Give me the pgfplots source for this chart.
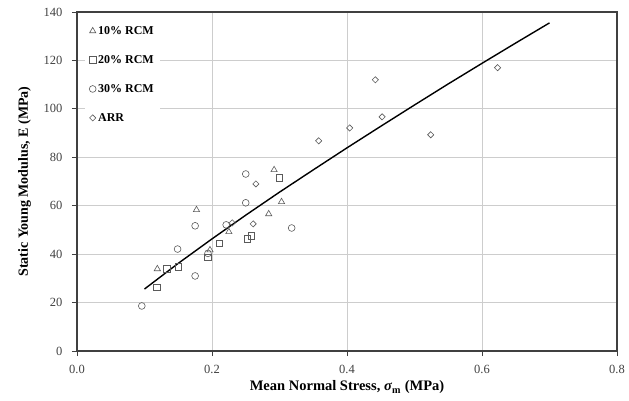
\documentclass[border=0pt]{standalone}
\usepackage{fontspec}
\setmainfont{Liberation Serif}
\usepackage{pgfplots}
\pgfplotsset{compat=1.18}
\definecolor{markgray}{HTML}{5A5A5A}
\definecolor{gridgray}{HTML}{CDCDCD}
\definecolor{axisgray}{HTML}{404040}
\begin{document}
\begin{tikzpicture}
\begin{axis}[
  name=main,
  scale only axis,
  width=540pt, height=339pt,
  xmin=0, xmax=0.8, ymin=0, ymax=140,
  xtick={0,0.2,0.4,0.6,0.8},
  ytick={0,20,40,60,80,100,120,140},
  /pgf/number format/assume math mode=true,
  tick label style={font=\fontsize{12.5}{14}\selectfont, text=black!75},
  yticklabel style={xshift=-6pt},
  xticklabel style={yshift=-6pt, /pgf/number format/.cd, fixed, fixed zerofill, precision=1},
  axis line style={axisgray, line width=2pt},
  tick align=outside,
  tick pos=left,
  major tick length=5pt,
  tick style={axisgray, line width=0.9pt},
  grid=major,
  major grid style={gridgray, line width=0.9pt},
  xlabel={\textbf{Mean Normal Stress, \textit{σ}\textsubscript{m} (MPa)}},
  ylabel={\textbf{Static Young Modulus, E (MPa)}},
  xlabel style={font=\fontsize{14.5}{16}\selectfont, yshift=0pt},
  ylabel style={font=\fontsize{14}{16}\selectfont, yshift=6pt},
  legend style={at={(axis cs:0.012,137.5)}, anchor=north west, draw=none, fill=white,
    font=\bfseries\fontsize{12}{14}\selectfont, row sep=15.5pt,
    inner xsep=4pt, inner ysep=6pt},
  legend cell align=left,
  legend image code/.code={\draw[#1] plot coordinates {(0.25cm,0cm)};},
]
% 10% RCM
\addplot[only marks, mark=triangle, mark size=3.6pt, markgray, mark options={line width=0.6pt}]
coordinates {
 (0.119,33.9) (0.197,41.7) (0.225,49.2) (0.177,58.3)
 (0.284,56.6) (0.303,61.6) (0.292,74.8)
};
\addlegendentry{10\% RCM}
% 20% RCM
\addplot[only marks, mark=square, mark size=3.2pt, markgray, mark options={line width=0.6pt}]
coordinates {
 (0.118,26.4) (0.133,33.9) (0.150,34.7) (0.194,38.8) (0.211,44.6)
 (0.252,46.3) (0.258,47.5) (0.300,71.5)
};
\addlegendentry{20\% RCM}
% 30% RCM
\addplot[only marks, mark=o, mark size=3.4pt, markgray, mark options={line width=0.6pt}]
coordinates {
 (0.096,18.6) (0.175,31.0) (0.149,42.1) (0.175,51.7) (0.221,52.1)
 (0.250,61.2) (0.250,73.1) (0.318,50.8) (0.194,40.3)
};
\addlegendentry{30\% RCM}
% ARR
\addplot[only marks, mark=square, mark size=2.2pt, markgray, mark options={line width=0.6pt, rotate=45}]
coordinates {
 (0.230,52.9) (0.261,52.5) (0.265,69.0) (0.358,86.8) (0.404,92.1)
 (0.442,112.0) (0.452,96.7) (0.524,89.3) (0.623,117.0)
};
\addlegendentry{ARR}
% fitted trend
\addplot[black, line width=1.4pt, forget plot] coordinates {
 (0.10,25.6) (0.15,36.2) (0.20,46.3) (0.25,56.1) (0.30,65.6)
 (0.35,74.8) (0.40,83.9) (0.45,92.8) (0.50,101.6) (0.55,110.3)
 (0.60,118.8) (0.65,127.2) (0.70,135.5)
};
\end{axis}
% heavy frame around the plot area
\draw[axisgray, line width=2pt] (main.south west) rectangle (main.north east);
\path ([xshift=-77pt,yshift=-49pt]main.south west) rectangle ([xshift=12pt,yshift=12pt]main.north east);
\end{tikzpicture}
\end{document}
